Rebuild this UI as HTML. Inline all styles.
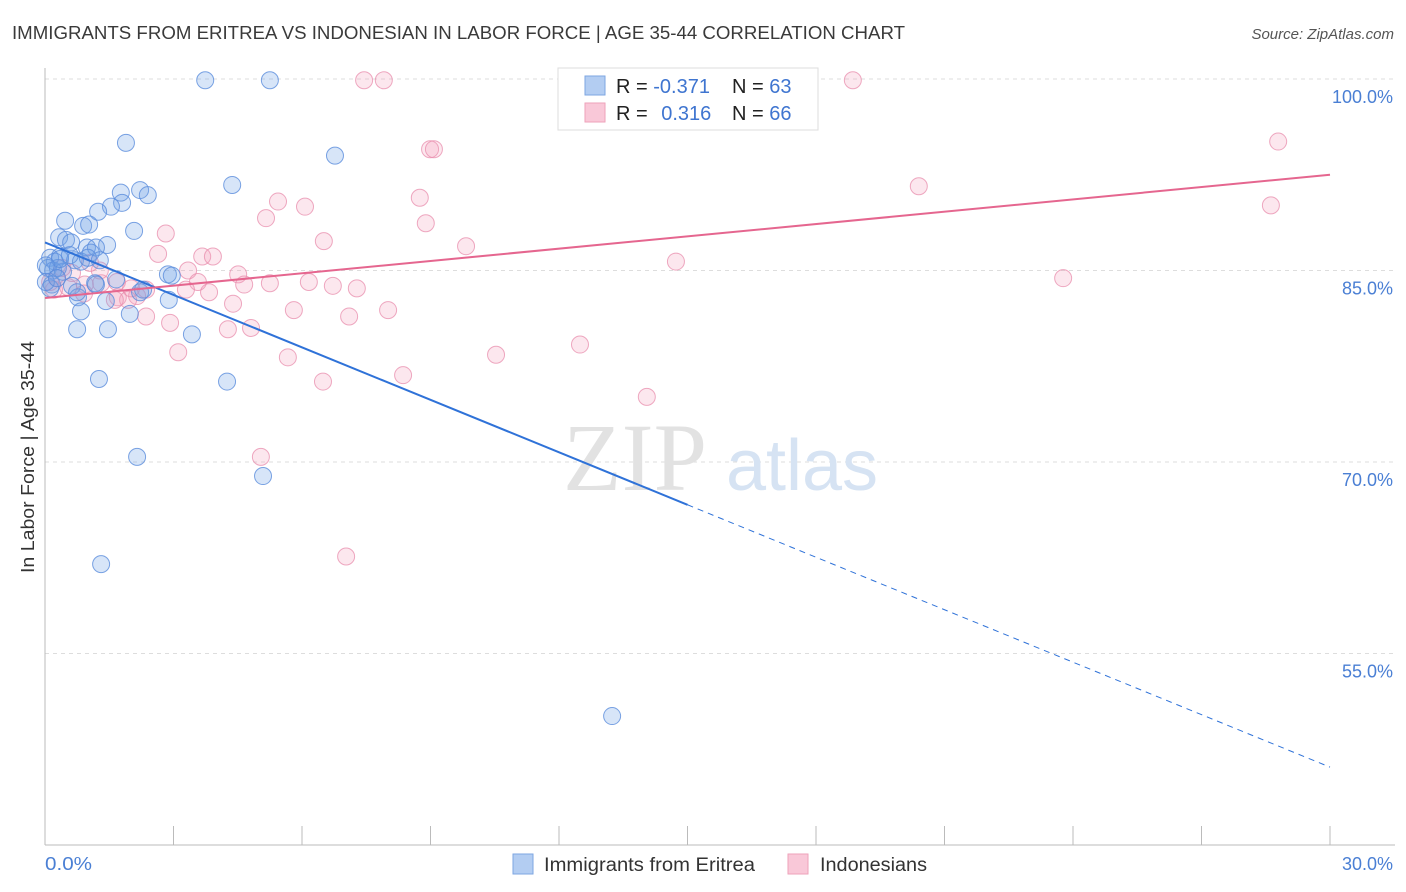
<!DOCTYPE html>
<html><head><meta charset="utf-8">
<style>
body{margin:0;background:#fff;font-family:"Liberation Sans",sans-serif;}
#wrap{position:relative;width:1406px;height:892px;overflow:hidden;}
</style></head>
<body>
<div id="wrap">
<svg id="svg" width="1406" height="892" xmlns="http://www.w3.org/2000/svg">
<text x="12" y="39" font-size="18" fill="#3a3a3a" textLength="893" lengthAdjust="spacingAndGlyphs">IMMIGRANTS FROM ERITREA VS INDONESIAN IN LABOR FORCE | AGE 35-44 CORRELATION CHART</text>
<text x="1394" y="39" font-size="15" fill="#555" font-style="italic" text-anchor="end">Source: ZipAtlas.com</text>
<g id="grid"></g>
<text x="635" y="490" font-size="96" fill="#e2e2e2" font-family="Liberation Serif,serif" text-anchor="middle">ZIP</text>
<text x="802" y="490" font-size="72" fill="#d6e3f3" text-anchor="middle">atlas</text>
<line x1="45" y1="68" x2="45" y2="845" stroke="#bbb" stroke-width="1"/>
<line x1="45" y1="845" x2="1395" y2="845" stroke="#bbb" stroke-width="1"/>
<g id="ticks"></g>
<g id="pts"></g>
<g id="lines"></g>
<text transform="translate(34,457) rotate(-90)" font-size="18" fill="#333" text-anchor="middle" textLength="232" lengthAdjust="spacingAndGlyphs">In Labor Force | Age 35-44</text>
<text x="45" y="870" font-size="18" fill="#4a7fd4" textLength="47" lengthAdjust="spacingAndGlyphs">0.0%</text>
<text x="1393" y="870" font-size="18" fill="#4a7fd4" text-anchor="end">30.0%</text>
<g>
<rect x="558" y="68" width="260" height="62" fill="#fff" stroke="#ddd"/>
<rect x="585" y="76" width="20" height="19" fill="#b3cdf2" stroke="#7ea6e2"/>
<rect x="585" y="103" width="20" height="19" fill="#f9c8d8" stroke="#eea2ba"/>
<text x="616" y="93" font-size="20" fill="#222">R = <tspan fill="#3f75d0">-0.371</tspan></text>
<text x="732" y="93" font-size="20" fill="#222">N = <tspan fill="#3f75d0">63</tspan></text>
<text x="616" y="120" font-size="20" fill="#222">R = <tspan fill="#3f75d0" dx="8">0.316</tspan></text>
<text x="732" y="120" font-size="20" fill="#222">N = <tspan fill="#3f75d0">66</tspan></text>
</g>
<g>
<rect x="513" y="854" width="20" height="20" fill="#b3cdf2" stroke="#7ea6e2"/>
<text x="544" y="871" font-size="19" fill="#333" textLength="211" lengthAdjust="spacingAndGlyphs">Immigrants from Eritrea</text>
<rect x="788" y="854" width="20" height="20" fill="#f9c8d8" stroke="#eea2ba"/>
<text x="820" y="871" font-size="19" fill="#333" textLength="107" lengthAdjust="spacingAndGlyphs">Indonesians</text>
</g>
</svg>
</div>
<script>
const yTicks=[100,85,70,55];
const yTickLabels=["100.0%","85.0%","70.0%","55.0%"];
const xTicks=[0,3,6,9,12,15,18,21,24,27,30];
const blueX=[3.74,5.25,1.89,6.77,4.37,2.22,1.77,2.40,1.80,1.54,1.24,0.47,0.89,1.03,2.08,0.33,0.49,0.61,1.45,0.98,1.19,1.07,0.35,0.12,0.23,0.70,0.84,0.07,0.19,0.42,0.30,2.87,2.96,1.66,1.17,0.16,0.12,0.63,2.22,0.77,1.42,2.89,0.84,1.98,0.75,1.47,3.43,1.26,4.25,2.15,5.09,1.31,13.24,0.02,0.35,1.00,0.02,2.29,1.19,0.75,0.58,1.28,0.28];
const blueY=[99.9,99.9,95.0,94.0,91.7,91.3,91.1,90.9,90.3,90.0,89.6,88.9,88.5,88.6,88.1,87.6,87.4,87.2,87.0,86.8,86.8,86.4,86.1,86.0,85.7,85.8,85.7,85.2,85.0,84.9,85.2,84.7,84.6,84.3,84.0,83.9,83.6,83.8,83.3,82.9,82.6,82.7,81.8,81.6,80.4,80.4,80.0,76.5,76.3,70.4,68.9,62.0,50.1,84.1,85.9,86.0,85.4,83.5,83.9,83.3,86.2,85.8,84.4];
const pinkX=[7.45,7.91,18.86,8.99,9.08,28.79,20.40,5.44,5.16,6.07,8.75,28.62,8.89,2.82,6.51,9.83,2.64,3.67,3.92,14.73,3.34,4.51,6.16,5.25,6.72,7.28,4.65,3.57,23.77,1.68,1.31,0.93,3.83,3.29,1.70,2.15,1.94,4.39,5.81,8.01,2.36,2.92,7.10,4.27,4.81,3.11,5.67,10.53,12.49,8.36,6.49,14.05,5.04,7.03,0.28,0.54,0.21,0.91,0.63,1.28,2.01,1.63,0.40,1.05,2.36,0.12];
const pinkY=[99.9,99.9,99.9,94.5,94.5,95.1,91.6,90.4,89.1,90.0,90.7,90.1,88.7,87.9,87.3,86.9,86.3,86.1,86.1,85.7,85.0,84.7,84.1,84.0,83.8,83.6,83.9,84.1,84.4,84.1,84.0,83.9,83.3,83.5,82.9,83.0,82.7,82.4,81.9,81.9,81.4,80.9,81.4,80.4,80.5,78.6,78.2,78.4,79.2,76.8,76.3,75.1,70.4,62.6,84.4,83.7,83.5,83.2,84.8,85.0,83.6,82.7,85.2,85.6,83.5,84.1];
const blueTrend=[87.2,46.1]; // values at x=0 and x=30
const pinkTrend=[82.85,92.5];
const NS="http://www.w3.org/2000/svg";
const sx=v=>45+v/30*1285;
const sy=v=>79+(100-v)/15*191.5;
function mk(tag,attrs,parent){const e=document.createElementNS(NS,tag);for(const k in attrs)e.setAttribute(k,attrs[k]);parent.appendChild(e);return e;}
const grid=document.getElementById('grid');
yTicks.forEach((t,i)=>{
  const l=mk('line',{x1:45,x2:1395,y1:sy(t),y2:sy(t),stroke:'#ddd','stroke-dasharray':'4,4'},grid);
  
  
  const tx=mk('text',{x:1393,y:sy(t)+24,'font-size':18,fill:'#4a7fd4','text-anchor':'end'},grid);
  tx.textContent=yTickLabels[i];
  
  
});
const ticks=document.getElementById('ticks');
xTicks.forEach(t=>{
  const l=mk('line',{x1:sx(t),x2:sx(t),y1:826,y2:845,stroke:'#bbb'},ticks);
  
  
});
const pts=document.getElementById('pts');
function drawPts(X,Y,fill,stroke,name){
  X.forEach((x,i)=>{
    const c=mk('circle',{cx:sx(x),cy:sy(Y[i]),r:8.5,fill:fill,stroke:stroke,'stroke-width':1},pts);
    
    
  });
}
drawPts(pinkX,pinkY,'rgba(244,160,188,0.25)','rgba(232,140,172,0.75)','indonesian-point');
drawPts(blueX,blueY,'rgba(110,160,230,0.28)','rgba(90,140,220,0.8)','eritrea-point');
const lines=document.getElementById('lines');
const bAt=x=>blueTrend[0]+(blueTrend[1]-blueTrend[0])*x/30;
let l1=mk('line',{x1:sx(0),y1:sy(bAt(0)),x2:sx(15),y2:sy(bAt(15)),stroke:'#2f72d8','stroke-width':2},lines);


let l2=mk('line',{x1:sx(15),y1:sy(bAt(15)),x2:sx(30),y2:sy(bAt(30)),stroke:'#2f72d8','stroke-width':1,'stroke-dasharray':'6,5'},lines);


let l3=mk('line',{x1:sx(0),y1:sy(pinkTrend[0]),x2:sx(30),y2:sy(pinkTrend[1]),stroke:'#e5668f','stroke-width':2},lines);


</script>
</body></html>
